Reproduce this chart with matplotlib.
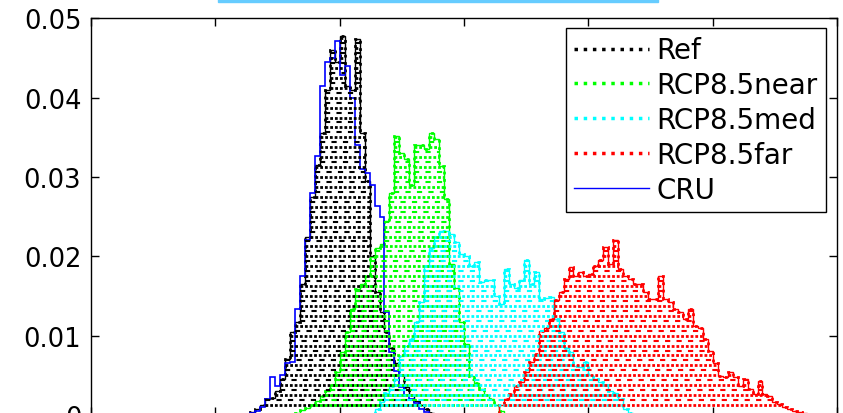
import numpy as np
import matplotlib
matplotlib.use("Agg")
import matplotlib.pyplot as plt
from matplotlib.lines import Line2D
from matplotlib.patches import Rectangle

plt.rcParams['font.family'] = ['DejaVu Sans']

# histogram bins (density, x1e-3), all with the same bin width
bin_width = 0.2

ref_start = 6.4
ref_vals = [0.4, 0.8, 1.2, 2.0, 2.2, 3.0, 4.5, 7.0, 10.5, 11.7, 16.5, 22.5, 27.5,
            31.5, 35.5, 41.0, 46.0, 44.5, 47.8, 41.5, 41.0, 47.4, 35.5, 29.5, 20.0,
            15.5, 13.0, 10.5, 8.5, 6.5, 5.0, 3.5, 2.5, 1.8, 1.2, 0.7, 0.3]

cru_start = 6.4
cru_vals = [0.2, 0.5, 1.0, 2.0, 4.8, 3.7, 5.0, 6.5, 6.7, 13.4, 17.5, 22.0, 28.0,
            32.7, 41.5, 44.5, 45.0, 47.2, 42.8, 44.0, 40.0, 34.0, 31.0, 30.5, 29.0,
            26.4, 25.0, 13.0, 8.0, 5.5, 3.5, 2.5, 2.0, 1.5, 0.8, 0.4]

near_start = 8.2
near_vals = [0.3, 0.6, 0.9, 1.3, 1.8, 2.4, 3.0, 3.8, 5.4, 8.0, 10.5, 13.4, 15.9,
             16.5, 17.5, 19.9, 21.0, 21.5, 24.5, 28.0, 35.2, 33.0, 32.3, 29.0, 34.0,
             34.0, 33.5, 35.5, 34.8, 31.4, 27.2, 19.0, 16.0, 11.7, 9.0, 4.9, 4.0,
             3.3, 2.5, 2.0, 1.2, 0.5]

med_start = 11.4
med_vals = [0.8, 1.6, 2.8, 3.7, 5.0, 7.4, 8.7, 9.6, 11.7, 14.2, 18.8, 21.0, 22.5,
            23.2, 23.2, 22.8, 21.8, 20.3, 20.0, 18.8, 19.3, 16.8, 17.0, 17.0, 15.0,
            14.0, 18.4, 16.5, 16.0, 17.0, 19.5, 16.5, 18.0, 14.6, 14.8, 14.9, 12.1,
            10.5, 8.5, 7.9, 6.2, 6.0, 6.7, 5.0, 4.5, 4.2, 3.8, 3.0, 2.8, 2.0, 0.8, 0.3]

far_start = 16.4
far_vals = [1.2, 2.0, 2.7, 3.7, 4.2, 5.4, 6.7, 7.7, 10.6, 11.0, 12.1, 14.5, 15.5,
            17.1, 18.6, 17.5, 18.0, 17.5, 17.8, 18.8, 19.5, 21.2, 19.0, 22.0, 18.4,
            17.5, 17.2, 16.5, 16.5, 15.5, 14.6, 14.6, 17.5, 14.6, 14.2, 13.4, 13.0,
            12.1, 13.4, 11.2, 11.0, 9.6, 8.1, 6.5, 4.9, 4.8, 5.4, 4.8, 3.7, 4.5, 3.3,
            2.6, 4.3, 2.6, 2.4, 1.6, 1.4, 1.0, 0.8, 0.5, 0.4, 0.2]

labels = ['Ref', 'RCP8.5near', 'RCP8.5med', 'RCP8.5far', 'CRU']
colors = ['#000000', '#00ff00', '#00ffff', '#ff0000', '#0000ff']

yticks = [0, 0.01, 0.02, 0.03, 0.04, 0.05]
ytick_labels = ['0', '0.01', '0.02', '0.03', '0.04', '0.05']
xticks = [0, 5, 10, 15, 20, 25, 30]


def runs(mask):
    m = np.concatenate([[0], mask.astype(int), [0]])
    d = np.diff(m)
    return np.where(d == 1)[0], np.where(d == -1)[0]


def segs(edges, h, lev):
    s, e = runs(h > lev)
    xs, ys = [], []
    for a, b in zip(s, e):
        xs += [edges[a], edges[b], np.nan]
        ys += [lev, lev, np.nan]
    return xs, ys


def draw_hist(ax, start, vals, color, fill=True):
    h = np.array(vals) * 1e-3
    edges = start + bin_width * np.arange(len(h) + 1)
    if not fill:
        ax.stairs(h, edges, color=color, lw=1.2)
        return
    ax.stairs(h, edges, color=color, lw=1.0)
    ax.stairs(h, edges, color=color, lw=2.0, ls=':')
    step = 0.00125
    xs1, ys1, xs2, ys2 = [], [], [], []
    for lev in np.arange(step, h.max(), step):
        a, b = segs(edges, h, lev)
        xs1 += a
        ys1 += b
        a, b = segs(edges, h, lev + step / 2)
        xs2 += a
        ys2 += b
    ax.plot(xs1, ys1, color=color, lw=2.0, dashes=(1, 0.7))
    ax.plot(xs2, ys2, color=color, lw=1.5, dashes=(2.5, 3))


fig = plt.figure(figsize=(8.43, 4.14), dpi=100)
ax = fig.add_axes([0.108, -0.0048, 0.885, 0.958])

draw_hist(ax, ref_start, ref_vals, colors[0])
draw_hist(ax, near_start, near_vals, colors[1])
draw_hist(ax, med_start, med_vals, colors[2])
draw_hist(ax, far_start, far_vals, colors[3])
draw_hist(ax, cru_start, cru_vals, colors[4], fill=False)

ax.set_xlim(0, 30)
ax.set_ylim(0, 0.05)
ax.set_xticks(xticks)
ax.set_yticks(yticks)
ax.set_yticklabels(ytick_labels)
# x tick labels sit below the visible (cropped) area
ax.tick_params(direction='in', length=6, width=1, top=True, right=True,
               labelsize=18.5, pad=7, labelbottom=False)
for sp in ax.spines.values():
    sp.set_linewidth(1.0)

handles = [Line2D([], [], color=c, lw=2.5, ls=':') for c in colors[:4]]
handles.append(Line2D([], [], color=colors[4], lw=1.0))
leg = ax.legend(handles, labels, loc='upper right', bbox_to_anchor=(0.985, 0.976),
                borderaxespad=0, fontsize=20, fancybox=False, framealpha=1,
                edgecolor='black', handlelength=2.7, handletextpad=0.25,
                labelspacing=0.25, borderpad=0.3)
leg.get_frame().set_linewidth(1.0)

fig.patches.append(Rectangle((218 / 843, 1 - 3 / 414), 440 / 843, 3 / 414,
                             transform=fig.transFigure, color='#66ccff'))

fig.savefig('out.png', dpi=100)
